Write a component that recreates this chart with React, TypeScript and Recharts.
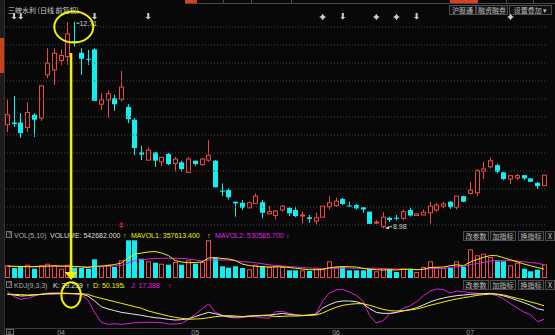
import { ComposedChart, Bar, Line, XAxis, YAxis, ReferenceLine, ReferenceDot } from 'recharts';

// daily candles, index 0..80 (Mar -> Jul)
const OPEN = [
  10.85, 10.89, 10.89, 10.8, 11.03, 10.97, 11.75, 11.84, 12.01, 12.08,
  12.36, 12.15, 12.04, 12.21, 11.22, 11.3, 11.33, 11.31, 11.17, 10.94,
  10.35, 10.21, 10.35, 10.18, 10.32, 10.15, 10.17, 9.99, 10.2, 10.13,
  10.21, 10.2, 9.66, 9.67, 9.46, 9.44, 9.35, 9.43, 9.45, 9.24,
  9.21, 9.31, 9.35, 9.31, 9.21, 9.18, 9.11, 9.18, 9.37, 9.39,
  9.51, 9.39, 9.4, 9.36, 9.28, 9.08, 9.01, 9.17, 9.17, 9.16,
  9.31, 9.21, 9.22, 9.26, 9.31, 9.38, 9.46, 9.36, 9.56, 9.61,
  9.62, 10.01, 10.09, 10.12, 9.99, 9.87, 9.89, 9.94, 9.88, 9.8, 9.75,
];
const HIGH = [
  11.3, 11.37, 11.06, 11.25, 11.06, 11.56, 12.23, 12.23, 12.21, 12.7,
  12.71, 12.23, 12.2, 12.23, 11.42, 11.47, 11.39, 11.82, 11.22, 10.97,
  10.47, 10.44, 10.36, 10.27, 10.34, 10.27, 10.2, 10.27, 10.2, 10.25,
  10.57, 10.21, 9.79, 9.7, 9.46, 9.49, 9.47, 9.61, 9.49, 9.38,
  9.31, 9.4, 9.37, 9.37, 9.28, 9.22, 9.26, 9.38, 9.56, 9.53,
  9.53, 9.46, 9.42, 9.36, 9.28, 9.13, 9.27, 9.19, 9.22, 9.32,
  9.35, 9.25, 9.32, 9.46, 9.44, 9.46, 9.47, 9.56, 9.57, 9.82,
  10.05, 10.18, 10.26, 10.14, 10.0, 9.94, 9.96, 9.94, 9.88, 9.82, 9.94,
];
const LOW = [
  10.72, 10.81, 10.61, 10.72, 10.63, 10.92, 11.69, 11.57, 11.93, 11.93,
  12.26, 11.75, 11.93, 11.28, 11.12, 10.98, 11.1, 11.27, 10.88, 10.3,
  10.21, 10.21, 10.09, 10.11, 10.12, 10.0, 10.0, 9.99, 10.11, 10.11,
  10.18, 9.72, 9.56, 9.5, 9.19, 9.31, 9.34, 9.42, 9.16, 9.24,
  9.14, 9.28, 9.2, 9.18, 9.07, 9.08, 9.04, 9.18, 9.32, 9.37,
  9.4, 9.36, 9.32, 9.26, 9.06, 9.06, 8.98, 9.09, 9.12, 9.12,
  9.19, 9.2, 9.22, 9.07, 9.28, 9.34, 9.33, 9.32, 9.45, 9.59,
  9.56, 9.87, 10.06, 9.97, 9.85, 9.78, 9.85, 9.85, 9.82, 9.69, 9.75,
];
const CLOSE = [
  11.03, 10.86, 10.7, 11.07, 10.94, 11.55, 11.96, 12.14, 12.1, 12.49,
  12.35, 12.04, 12.03, 11.28, 11.3, 11.41, 11.22, 11.53, 10.95, 10.43,
  10.31, 10.39, 10.2, 10.26, 10.14, 10.23, 10.05, 10.23, 10.14, 10.23,
  10.3, 9.72, 9.64, 9.54, 9.43, 9.35, 9.44, 9.56, 9.26, 9.28,
  9.29, 9.38, 9.25, 9.2, 9.22, 9.15, 9.17, 9.38, 9.44, 9.47,
  9.42, 9.38, 9.34, 9.32, 9.06, 9.09, 9.18, 9.13, 9.16, 9.28,
  9.21, 9.24, 9.27, 9.38, 9.4, 9.42, 9.36, 9.56, 9.46, 9.67,
  10.02, 10.05, 10.2, 10.0, 9.87, 9.93, 9.93, 9.88, 9.82, 9.74, 9.94,
];
const VOLUME = [
  508000, 400000, 480000, 532000, 372000, 508000, 572000, 508000, 372000, 532000,
  412000, 400000, 372000, 748000, 468000, 532000, 440000, 708000, 1508000, 1508000,
  772000, 668000, 612000, 572000, 532000, 640000, 532000, 708000, 572000, 640000,
  1508000, 800000, 468000, 412000, 468000, 400000, 348000, 532000, 480000, 440000,
  460000, 440000, 308000, 308000, 308000, 280000, 400000, 372000, 668000, 440000,
  440000, 308000, 308000, 308000, 372000, 268000, 400000, 348000, 240000, 372000,
  372000, 240000, 440000, 668000, 440000, 400000, 400000, 668000, 440000, 1148000,
  908000, 972000, 840000, 668000, 668000, 508000, 612000, 372000, 268000, 332000, 542682,
];
const MAVOL1 = [
  480000, 470000, 460000, 455000, 455000, 470000, 480000, 490000, 480000, 475000,
  460000, 440000, 420000, 470000, 480000, 500000, 540000, 600000, 800000, 950000,
  1000000, 1040000, 1060000, 1000000, 900000, 700000, 640000, 610000, 620000, 640000,
  800000, 820000, 780000, 760000, 700000, 560000, 500000, 470000, 450000, 440000,
  450000, 450000, 420000, 390000, 360000, 330000, 330000, 340000, 410000, 440000,
  460000, 450000, 440000, 390000, 350000, 330000, 320000, 330000, 320000, 350000,
  350000, 330000, 350000, 420000, 430000, 440000, 490000, 530000, 490000, 640000,
  740000, 830000, 900000, 890000, 810000, 730000, 650000, 560000, 490000, 420000, 357613,
];
const MAVOL2 = [
  460000, 455000, 450000, 450000, 445000, 450000, 455000, 460000, 460000, 465000,
  465000, 460000, 450000, 455000, 460000, 470000, 480000, 500000, 600000, 700000,
  730000, 760000, 780000, 790000, 790000, 790000, 780000, 760000, 720000, 680000,
  720000, 720000, 720000, 720000, 690000, 650000, 640000, 610000, 570000, 530000,
  500000, 480000, 460000, 440000, 420000, 400000, 390000, 380000, 390000, 390000,
  400000, 400000, 390000, 380000, 390000, 390000, 380000, 370000, 360000, 350000,
  340000, 340000, 340000, 370000, 380000, 390000, 420000, 450000, 460000, 530000,
  580000, 620000, 680000, 700000, 710000, 690000, 680000, 650000, 620000, 590000, 530586,
];
const KDJ_K = [
  78.3, 75.9, 73.5, 74.3, 75.9, 77.5, 79.1, 79.9, 79.9, 79.9,
  79.1, 78.3, 73.5, 61.5, 47.8, 42.2, 38.2, 34.1, 31.7, 29.3,
  26.9, 23.7, 21.3, 19.7, 17.3, 15.7, 16.5, 18.9, 23.7, 29.3,
  34.1, 30.9, 26.1, 23.7, 22.9, 23.7, 25.3, 26.1, 26.9, 27.7,
  29.3, 31.7, 29.3, 27.7, 26.9, 27.7, 29.3, 44.6, 52.6, 59.1,
  61.5, 61.5, 59.9, 55.0, 43.0, 34.1, 31.7, 31.7, 34.1, 37.4,
  40.6, 45.4, 51.8, 59.1, 64.7, 68.7, 71.9, 74.3, 75.9, 77.5,
  78.3, 79.1, 79.9, 77.5, 73.5, 68.7, 63.1, 57.5, 51.0, 43.0, 39.26,
];
const KDJ_D = [
  77.5, 77.5, 76.7, 75.9, 76.7, 77.5, 78.3, 78.3, 79.1, 79.1,
  79.1, 79.1, 77.5, 71.9, 67.9, 63.9, 59.9, 55.8, 51.8, 47.8,
  43.8, 37.4, 33.3, 29.3, 25.3, 22.1, 19.7, 17.3, 18.1, 18.9,
  21.3, 23.7, 25.3, 26.1, 25.3, 23.7, 24.5, 25.3, 26.1, 26.1,
  23.7, 24.5, 25.3, 25.3, 26.1, 26.9, 27.7, 32.5, 39.8, 46.2,
  51.0, 53.4, 55.0, 55.0, 51.0, 46.2, 41.4, 38.2, 37.4, 38.2,
  39.8, 42.2, 46.2, 51.0, 55.0, 59.1, 63.1, 66.3, 69.5, 71.9,
  75.1, 76.7, 78.3, 78.3, 75.9, 71.9, 67.9, 63.9, 59.1, 55.0, 50.2,
];
const KDJ_J = [
  83.9, 71.9, 65.5, 67.9, 73.5, 77.5, 80.7, 81.5, 80.7, 79.9,
  78.3, 75.9, 63.9, 34.1, 10.0, 5.2, 6.8, 5.2, 6.8, 9.2,
  10.0, 10.0, 10.0, 9.2, 6.0, 6.0, 7.6, 17.3, 29.3, 42.2,
  54.2, 34.1, 27.7, 22.1, 20.5, 21.3, 23.7, 23.7, 21.3, 19.7,
  35.7, 36.5, 31.7, 27.7, 26.1, 27.7, 30.9, 61.5, 80.7, 87.9,
  89.6, 83.1, 75.1, 61.5, 26.1, 8.4, 14.0, 31.0, 33.3, 43.8,
  49.4, 59.9, 73.5, 85.5, 90.4, 88.8, 80.7, 85.5, 83.9, 81.5,
  79.9, 79.1, 78.3, 74.3, 66.3, 55.0, 44.6, 34.9, 28.5, 11.6, 17.39,
];

const MONTH_TICKS = [8, 28, 49, 69];
const MONTH_LABELS = ['04', '05', '06', '07'];
const ARROW_DAYS = [1, 2, 13, 21, 50, 61];
const SUN_DAYS = [47, 55, 58, 75];
const GRID_PRICES = [12.615, 12.29, 11.965, 11.64, 11.315, 10.99, 10.665, 10.34, 10.015, 9.69, 9.365, 9.04];

const PRICE_DOMAIN: [number, number] = [8.967, 12.885];
const VOL_DOMAIN: [number, number] = [0, 1960000];
const X_DOMAIN: [number, number] = [-0.5, 80.5];
const HI_DAY = 10;
const LO_DAY = 56;

const RED = '#f04848';
const CYAN = '#10f0f0';
const YEL = '#f2f200';
const MAG = '#e020e0';
const BG = '#080808';
const LATIN = '"Liberation Sans", "Noto Sans CJK SC", sans-serif';
const CJK = '"Noto Sans CJK SC", "Liberation Sans", sans-serif';
const MARGIN = { top: 0, right: 7.6, bottom: 0, left: 4 };

const rows = OPEN.map((open, i) => ({
  i,
  open,
  close: CLOSE[i],
  high: HIGH[i],
  low: LOW[i],
  range: [LOW[i], HIGH[i]],
  vol: VOLUME[i],
  mavol1: MAVOL1[i],
  mavol2: MAVOL2[i],
  k: KDJ_K[i],
  d: KDJ_D[i],
  j: KDJ_J[i],
}));

function Candle(props: any) {
  const { x, y, width, height, payload } = props;
  if (!payload) return null;
  const { open, close, high, low } = payload;
  const top = Math.min(y, y + height);
  const k = Math.abs(height) / (high - low);
  const py = (v: number) => top + (high - v) * k;
  const fc = Math.floor(x + width / 2);
  const cx = fc + 0.5;
  const bTop = py(Math.max(open, close));
  const bh = Math.max(py(Math.min(open, close)) - bTop, 1);
  if (close >= open) {
    return (
      <g>
        <line x1={cx} x2={cx} y1={py(high)} y2={bTop} stroke={RED} />
        <line x1={cx} x2={cx} y1={bTop + bh} y2={py(low)} stroke={RED} />
        <rect x={fc - 1.5} y={bTop} width={4} height={bh} fill={BG} stroke={RED} />
      </g>
    );
  }
  return (
    <g>
      <line x1={cx} x2={cx} y1={py(high)} y2={py(low)} stroke={CYAN} />
      <rect x={fc - 2} y={bTop} width={5} height={bh} fill={CYAN} />
    </g>
  );
}

function VolBar(props: any) {
  const { x, y, width, height, payload } = props;
  if (!payload) return null;
  const fc = Math.floor(x + width / 2);
  if (payload.close >= payload.open) {
    return <rect x={fc - 1.5} y={y + 0.5} width={4} height={Math.max(height - 1, 0)} fill="none" stroke={RED} />;
  }
  return <rect x={fc - 2} y={y} width={5} height={height} fill={CYAN} />;
}

function ArrowMark({ cx, cy }: any) {
  return (
    <g fill="#cfcfcf">
      <rect x={cx - 1} y={cy - 4} width={2} height={4} />
      <path d={`M${cx - 2.5},${cy} L${cx + 2.5},${cy} L${cx},${cy + 2.5} Z`} />
    </g>
  );
}

function SunMark({ cx, cy }: any) {
  return (
    <g stroke="#cfcfcf" strokeWidth={1}>
      <circle cx={cx} cy={cy} r={1.6} fill="#cfcfcf" />
      <line x1={cx - 3} x2={cx + 3} y1={cy} y2={cy} />
      <line x1={cx} x2={cx} y1={cy - 3} y2={cy + 3} />
    </g>
  );
}

function Btn({ x, y, w, label }: { x: number; y: number; w: number; label: string }) {
  return (
    <g>
      <rect x={x + 0.5} y={y + 0.5} width={w} height={9} fill="#121212" stroke="#4c4c4c" />
      <text x={x + w / 2 + 0.5} y={y + 7.5} textAnchor="middle" fill="#bdbdbd" fontSize={7} fontFamily={CJK}>
        {label}
      </text>
    </g>
  );
}

function Overlay() {
  const t = (x: number, y: number, s: string, fill: string) => (
    <text x={x} y={y} fill={fill} fontSize={7} fontFamily={LATIN}>{s}</text>
  );
  return (
    <svg width={555} height={335} style={{ position: 'absolute', left: 0, top: 0 }}>
      {/* left rail */}
      <rect x={0} y={0} width={4} height={335} fill="#1c1c1c" />
      <line x1={4.5} x2={4.5} y1={0} y2={335} stroke="#303030" />
      <rect x={0} y={38} width={4} height={35} fill="#c8401c" />
      {/* top tab strip */}
      <line x1={185} x2={555} y1={3.5} y2={3.5} stroke="#4a4a4a" />
      <rect x={185} y={0} width={12} height={3} fill="#d8401a" />
      <rect x={450} y={0} width={28} height={3} fill="#d8401a" />
      {[223, 251, 291, 506, 533].map((x) => (
        <line key={x} x1={x + 0.5} x2={x + 0.5} y1={0} y2={3} stroke="#4a4a4a" />
      ))}
      <text x={8} y={13} fill="#cfcfcf" fontSize={7} fontFamily={CJK}>三峡水利 (日线 前复权)</text>
      <Btn x={449} y={5} w={26} label="沪股通" />
      <Btn x={476} y={5} w={31} label="融资融券" />
      <Btn x={509} y={5} w={42} label="设置叠加 ▾" />

      {/* volume header */}
      <rect x={6.5} y={231.5} width={5} height={6} fill="none" stroke="#777" />
      {t(7.6, 237, '?', '#999')}
      {t(14, 237.5, 'VOL(5,10)', '#a8a8a8')}
      {t(50, 237.5, 'VOLUME: 542682.000', '#dcdcdc')}
      {t(123, 237.5, '↑', '#dcdcdc')}
      {t(131, 237.5, 'MAVOL1: 357613.400', YEL)}
      {t(207, 237.5, '↑', YEL)}
      {t(215, 237.5, 'MAVOL2: 530585.700', MAG)}
      {t(286, 237.5, '↓', MAG)}
      <Btn x={463} y={231} w={25} label="改参数" />
      <Btn x={490} y={231} w={25} label="加指标" />
      <Btn x={518} y={231} w={25} label="换指标" />
      <Btn x={545} y={231} w={9} label="X" />

      {/* KDJ header */}
      <rect x={6.5} y={281.5} width={5} height={6} fill="none" stroke="#777" />
      {t(7.6, 287, '?', '#999')}
      {t(14, 287.5, 'KDJ(9,3,3)', '#a8a8a8')}
      {t(53, 287.5, 'K: 39.259', '#e8e8e8')}
      {t(86, 287.5, '↑', '#e8e8e8')}
      {t(93, 287.5, 'D: 50.195', YEL)}
      {t(122, 287.5, '↓', YEL)}
      {t(131, 287.5, 'J: 17.388', MAG)}
      {t(168, 287.5, '↑', MAG)}
      <Btn x={463} y={280} w={25} label="改参数" />
      <Btn x={490} y={280} w={25} label="加指标" />
      <Btn x={518} y={280} w={25} label="换指标" />
      <Btn x={545} y={280} w={9} label="X" />

      {/* bottom axis */}
      <line x1={5} x2={555} y1={328.5} y2={328.5} stroke="#3c3c3c" />
      <rect x={6.5} y={329.5} width={7} height={5} fill="none" stroke="#666" />
      {t(7.6, 334.5, '«', '#999')}
    </svg>
  );
}

export default function App() {
  return (
    <div style={{ position: 'relative', width: 555, height: 335, background: BG, overflow: 'hidden' }}>
      <style>{`body{margin:0;background:${BG}}`}</style>
      <Overlay />

      {/* price pane */}
      <div style={{ position: 'absolute', left: 0, top: 0 }}>
        <ComposedChart width={555} height={229} data={rows} margin={{ ...MARGIN, top: 12 }}>
          <XAxis type="number" dataKey="i" domain={X_DOMAIN} allowDataOverflow hide />
          <YAxis domain={PRICE_DOMAIN} allowDataOverflow hide />
          {GRID_PRICES.map((p) => (
            <ReferenceLine key={p} y={p} stroke="#4a4a4a" strokeDasharray="1 2" />
          ))}
          <Bar dataKey="range" barSize={5} shape={<Candle />} isAnimationActive={false} />
          {ARROW_DAYS.map((d) => (
            <ReferenceDot key={`a${d}`} x={d} y={12.795} shape={<ArrowMark />} ifOverflow="visible" />
          ))}
          {SUN_DAYS.map((d) => (
            <ReferenceDot key={`s${d}`} x={d} y={12.795} shape={<SunMark />} ifOverflow="visible" />
          ))}
          <ReferenceDot
            x={HI_DAY}
            y={HIGH[HI_DAY]}
            ifOverflow="visible"
            shape={({ cx, cy }: any) => (
              <g>
                <line x1={cx + 2} x2={cx + 5} y1={cy + 1.5} y2={cy + 1.5} stroke="#cfcfcf" />
                <text x={cx + 5} y={cy + 4} fill="#cfcfcf" fontSize={7} fontFamily={LATIN}>{HIGH[HI_DAY].toFixed(2)}</text>
              </g>
            )}
          />
          <ReferenceDot
            x={LO_DAY}
            y={LOW[LO_DAY]}
            ifOverflow="visible"
            shape={({ cx, cy }: any) => (
              <g>
                <path d={`M${cx + 2},${cy} L${cx + 6},${cy - 2} L${cx + 6},${cy + 1} Z`} fill="#e0e0e0" />
                <line x1={cx + 6} x2={cx + 9} y1={cy - 1.5} y2={cy - 1.5} stroke="#cfcfcf" />
                <text x={cx + 10} y={cy + 0.5} fill="#cfcfcf" fontSize={7} fontFamily={LATIN}>{LOW[LO_DAY].toFixed(2)}</text>
              </g>
            )}
          />
          <ReferenceDot
            x={17}
            y={9.04}
            ifOverflow="visible"
            shape={({ cx, cy }: any) => (
              <g stroke="#e02020" strokeWidth={1}>
                <line x1={cx} x2={cx} y1={cy - 3} y2={cy + 3} />
                <line x1={cx - 2} x2={cx + 2} y1={cy - 1} y2={cy - 1} />
                <line x1={cx - 2} x2={cx + 2} y1={cy + 1.5} y2={cy + 1.5} />
              </g>
            )}
          />
          {/* yellow annotation */}
          <ReferenceDot
            x={9.9}
            y={12.615}
            ifOverflow="visible"
            shape={({ cx, cy }: any) => <ellipse cx={cx} cy={cy} rx={19.5} ry={15.5} fill="none" stroke={YEL} strokeWidth={2} />}
          />
          <ReferenceLine
            segment={[{ x: 9.5, y: 12.145 }, { x: 9.5, y: PRICE_DOMAIN[0] }]}
            stroke={YEL}
            strokeWidth={2.5}
          />
        </ComposedChart>
      </div>

      {/* volume pane */}
      <div style={{ position: 'absolute', left: 0, top: 229 }}>
        <ComposedChart width={555} height={53} data={rows} margin={{ ...MARGIN, bottom: 4 }}>
          <XAxis type="number" dataKey="i" domain={X_DOMAIN} allowDataOverflow hide />
          <YAxis domain={VOL_DOMAIN} allowDataOverflow hide />
          <Bar dataKey="vol" barSize={5} shape={<VolBar />} isAnimationActive={false} />
          <Line dataKey="mavol2" type="linear" stroke={MAG} strokeWidth={1} dot={false} isAnimationActive={false} />
          <Line dataKey="mavol1" type="linear" stroke={YEL} strokeWidth={1} dot={false} isAnimationActive={false} />
          <ReferenceLine x={9.5} stroke={YEL} strokeWidth={2.5} />
          <ReferenceDot
            x={9.5}
            y={0}
            ifOverflow="visible"
            shape={({ cx, cy }: any) => (
              <path d={`M${cx - 6.5},${cy - 6} L${cx + 6.5},${cy - 6} L${cx},${cy + 2} Z`} fill={YEL} />
            )}
          />
        </ComposedChart>
      </div>

      {/* KDJ pane */}
      <div style={{ position: 'absolute', left: 0, top: 279 }}>
        <ComposedChart width={555} height={56} data={rows} margin={{ ...MARGIN, top: 6 }}>
          <XAxis
            type="number"
            dataKey="i"
            domain={X_DOMAIN}
            allowDataOverflow
            ticks={MONTH_TICKS}
            interval={0}
            axisLine={false}
            tickLine={false}
            height={8.5}
            tick={({ x, payload }: any) => (
              <text x={x} y={55.5} textAnchor="middle" fill="#9c9c9c" fontSize={7} fontFamily={LATIN}>
                {MONTH_LABELS[MONTH_TICKS.indexOf(payload.value)]}
              </text>
            )}
          />
          <YAxis domain={[0, 100]} allowDataOverflow hide />
          <Line dataKey="j" type="linear" stroke={MAG} strokeWidth={1} dot={false} isAnimationActive={false} />
          <Line dataKey="k" type="linear" stroke="#e8e8e8" strokeWidth={1} dot={false} isAnimationActive={false} />
          <Line dataKey="d" type="linear" stroke={YEL} strokeWidth={1} dot={false} isAnimationActive={false} />
          <ReferenceDot
            x={9.5}
            y={75.9}
            ifOverflow="visible"
            shape={({ cx, cy }: any) => <ellipse cx={cx} cy={cy} rx={9.7} ry={12.7} fill="none" stroke={YEL} strokeWidth={2} />}
          />
        </ComposedChart>
      </div>
    </div>
  );
}
